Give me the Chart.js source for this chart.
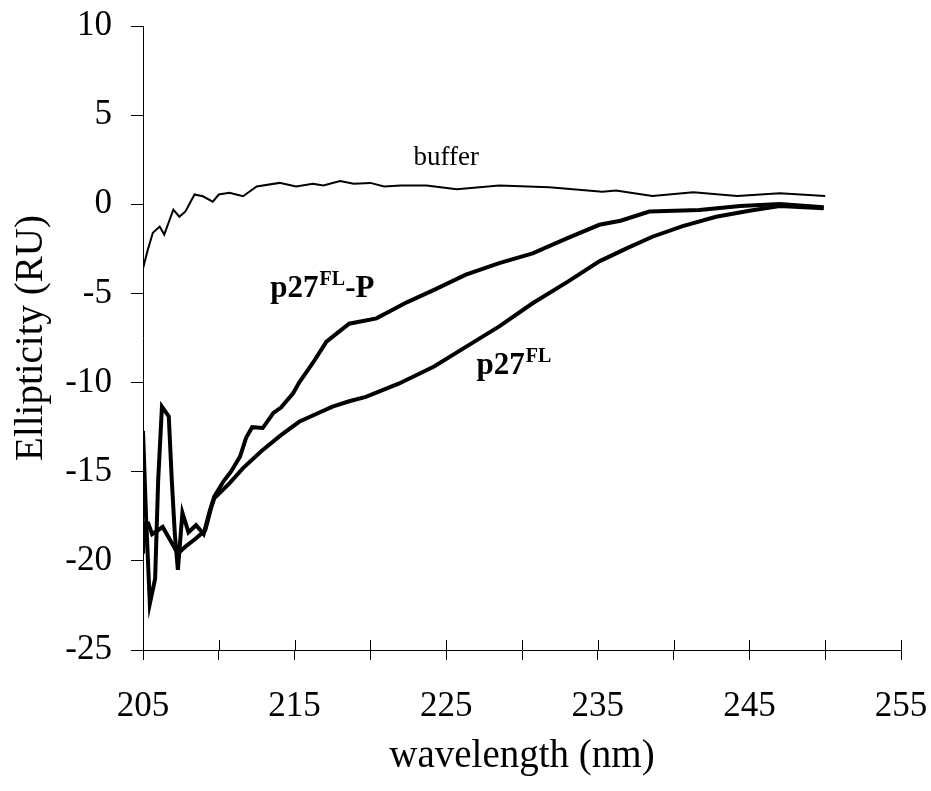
<!DOCTYPE html>
<html>
<head>
<meta charset="utf-8">
<script src="https://cdn.jsdelivr.net/npm/chart.js@4.4.1/dist/chart.umd.min.js"></script>
<style>
  body { margin: 0; background: #fff; }
  canvas { display: block; }
</style>
</head>
<body>
<canvas id="cdChart" width="931" height="791"></canvas>
<script>
// Wavelength (nm) and ellipticity (RU)
const bufferNm = [205.0, 205.3, 205.65, 206.1, 206.4, 207.0, 207.4, 207.8, 208.4, 208.95, 209.6, 210.0, 210.7, 211.6, 212.5, 214.0, 215.1, 216.2, 216.9, 218.0, 218.9, 220.0, 220.9, 222.0, 223.7, 225.7, 228.5, 231.8, 235.3, 236.2, 238.6, 241.3, 244.2, 247.0, 250.0];
const bufferRU = [-3.6, -2.6, -1.6, -1.25, -1.7, -0.3, -0.7, -0.4, 0.55, 0.45, 0.15, 0.55, 0.65, 0.45, 1.0, 1.2, 1.0, 1.15, 1.05, 1.3, 1.15, 1.2, 1.0, 1.05, 1.05, 0.85, 1.05, 0.95, 0.7, 0.77, 0.47, 0.67, 0.47, 0.62, 0.47];

const flpNm = [205.0, 205.2, 205.45, 205.8, 206.0, 206.25, 206.7, 206.9, 207.1, 207.3, 207.6, 208.0, 208.5, 209.0, 209.4, 209.7, 210.3, 210.8, 211.4, 211.8, 212.2, 212.9, 213.6, 214.1, 214.9, 215.3, 216.2, 217.1, 218.6, 220.4, 222.4, 224.2, 226.3, 228.5, 230.7, 233.0, 235.1, 236.5, 238.4, 241.7, 244.4, 247.0, 249.9];
const flpRU = [-12.7, -17.5, -22.4, -21.0, -15.5, -11.35, -11.9, -15.5, -18.5, -20.5, -17.3, -18.4, -18.0, -18.5, -17.2, -16.4, -15.55, -15.0, -14.15, -13.1, -12.5, -12.55, -11.7, -11.4, -10.6, -10.0, -8.9, -7.7, -6.7, -6.4, -5.5, -4.8, -3.95, -3.3, -2.75, -1.9, -1.15, -0.92, -0.41, -0.32, -0.09, 0.02, -0.17];

const flNm = [205.0, 205.1, 205.35, 205.6, 206.3, 206.9, 207.3, 207.8, 208.4, 209.1, 209.5, 209.7, 210.7, 211.6, 212.8, 214.1, 215.3, 215.8, 217.5, 218.6, 219.7, 221.9, 224.2, 226.3, 228.5, 230.7, 233.0, 235.1, 236.9, 238.6, 240.6, 242.8, 245.0, 247.0, 249.9];
const flRU = [-19.6, -17.9, -17.9, -18.5, -18.1, -19.0, -19.6, -19.2, -18.8, -18.3, -17.0, -16.5, -15.65, -14.8, -13.85, -12.95, -12.2, -12.0, -11.35, -11.05, -10.8, -10.05, -9.1, -8.0, -6.85, -5.55, -4.35, -3.2, -2.47, -1.82, -1.22, -0.7, -0.36, -0.1, -0.22];

// Curve labels: [text, superscript, suffix, wavelength, RU, bold]
const curveLabels = [
    ["buffer", "", "", 225.0, 2.2, false],
    ["p27", "FL", "-P", 213.4, -5.2, true],
    ["p27", "FL", "", 227.0, -9.5, true]
];

const serif = "'Liberation Serif', 'Times New Roman', serif";

function toPoints(xs, ys) {
    return xs.map((x, i) => ({ x: x, y: ys[i] }));
}

// Tick marks on the x axis cross the axis line, so draw the upper half too
const innerTicks = {
    id: 'innerTicks',
    afterDraw(chart) {
        const ctx = chart.ctx;
        const xScale = chart.scales.x;
        const yAxis = chart.chartArea.bottom;
        ctx.save();
        ctx.strokeStyle = '#000';
        ctx.lineWidth = 1;
        xScale.ticks.forEach(t => {
            const px = Math.round(xScale.getPixelForValue(t.value)) + 0.5;
            ctx.beginPath();
            ctx.moveTo(px, yAxis);
            ctx.lineTo(px, yAxis - 10);
            ctx.stroke();
        });
        ctx.restore();
    }
};

// Text labels next to the curves
const curveText = {
    id: 'curveText',
    afterDraw(chart) {
        const ctx = chart.ctx;
        const xs = chart.scales.x, ys = chart.scales.y;
        ctx.save();
        ctx.fillStyle = '#000';
        ctx.textBaseline = 'alphabetic';
        curveLabels.forEach(l => {
            let px = xs.getPixelForValue(l[3]);
            const py = ys.getPixelForValue(l[4]);
            const weight = l[5] ? 'bold ' : '';
            if (!l[5]) {
                ctx.font = '27px ' + serif;
                ctx.textAlign = 'center';
                ctx.fillText(l[0], px, py);
                return;
            }
            ctx.textAlign = 'left';
            ctx.font = weight + '31px ' + serif;
            ctx.fillText(l[0], px, py);
            px += ctx.measureText(l[0]).width;
            ctx.font = weight + '20px ' + serif;
            ctx.fillText(l[1], px + 1, py - 12);
            px += ctx.measureText(l[1]).width + 1;
            ctx.font = weight + '31px ' + serif;
            ctx.fillText(l[2], px, py);
        });
        ctx.restore();
    }
};

const lineStyle = { borderColor: '#000', pointRadius: 0, tension: 0, fill: false };

new Chart(document.getElementById('cdChart'), {
    type: 'line',
    data: {
        datasets: [
            Object.assign({ label: 'buffer', data: toPoints(bufferNm, bufferRU), borderWidth: 2 }, lineStyle),
            Object.assign({ label: 'p27FL-P', data: toPoints(flpNm, flpRU), borderWidth: 4 }, lineStyle),
            Object.assign({ label: 'p27FL', data: toPoints(flNm, flRU), borderWidth: 4 }, lineStyle)
        ]
    },
    options: {
        responsive: false,
        animation: false,
        layout: { padding: { left: 0, right: 30, top: 26, bottom: 0 } },
        plugins: { legend: { display: false }, tooltip: { enabled: false } },
        scales: {
            x: {
                type: 'linear',
                min: 205,
                max: 255,
                afterFit: scale => {
                    scale.height = 141;
                    scale.paddingLeft = 0;
                    scale.paddingRight = 0;
                },
                border: { display: true, color: '#000', width: 1 },
                grid: { drawOnChartArea: false, drawTicks: true, tickLength: 10, color: '#000' },
                ticks: {
                    stepSize: 5,
                    autoSkip: false,
                    maxRotation: 0,
                    padding: 26,
                    color: '#000',
                    font: { family: serif, size: 35 },
                    callback: v => ((v - 205) % 10 === 0 ? String(v) : '')
                },
                title: {
                    display: true,
                    text: 'wavelength (nm)',
                    color: '#000',
                    font: { family: serif, size: 39 },
                    padding: { top: 0, bottom: 11 }
                }
            },
            y: {
                min: -25,
                max: 10,
                afterFit: scale => {
                    scale.width = 143;
                    scale.paddingTop = 0;
                    scale.paddingBottom = 0;
                },
                border: { display: true, color: '#000', width: 1 },
                grid: { drawOnChartArea: false, drawTicks: true, tickLength: 12, color: '#000' },
                ticks: {
                    stepSize: 5,
                    padding: 19,
                    color: '#000',
                    font: { family: serif, size: 35 },
                    callback: v => String(v)
                },
                title: {
                    display: true,
                    text: 'Ellipticity (RU)',
                    color: '#000',
                    font: { family: serif, size: 39 },
                    padding: { top: 8, bottom: 0 }
                }
            }
        }
    },
    plugins: [innerTicks, curveText]
});
</script>
</body>
</html>
